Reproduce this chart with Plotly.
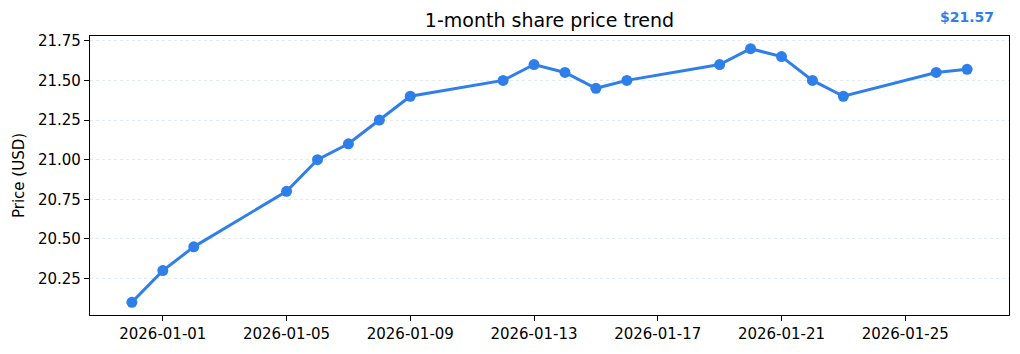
import plotly.graph_objects as go

dates = ["2025-12-31", "2026-01-01", "2026-01-02", "2026-01-05", "2026-01-06", "2026-01-07",
         "2026-01-08", "2026-01-09", "2026-01-12", "2026-01-13", "2026-01-14", "2026-01-15",
         "2026-01-16", "2026-01-19", "2026-01-20", "2026-01-21", "2026-01-22", "2026-01-23",
         "2026-01-26", "2026-01-27"]
prices = [20.10, 20.30, 20.45, 20.80, 21.00, 21.10, 21.25, 21.40, 21.50, 21.60, 21.55, 21.45,
          21.50, 21.60, 21.70, 21.65, 21.50, 21.40, 21.55, 21.57]
x_ticks = ["2026-01-01", "2026-01-05", "2026-01-09", "2026-01-13", "2026-01-17", "2026-01-21", "2026-01-25"]
y_ticks = [20.25, 20.50, 20.75, 21.00, 21.25, 21.50, 21.75]

color = "#2f7fea"
font = "DejaVu Sans"

fig = go.Figure()
fig.add_trace(go.Scatter(
    x=dates, y=prices, mode="lines+markers",
    line=dict(color=color, width=3),
    marker=dict(color=color, size=11),
    showlegend=False,
))

fig.add_annotation(
    x=dates[-1], y=1.0, xref="x", yref="paper", yshift=9,
    text=f"<b>${prices[-1]:.2f}</b>", showarrow=False,
    xanchor="center", yanchor="bottom",
    font=dict(family=font, size=14, color=color),
)

fig.update_layout(
    width=1020, height=354,
    margin=dict(l=90, r=11, t=36, b=39),
    paper_bgcolor="white", plot_bgcolor="white",
    font=dict(family=font, size=15, color="black"),
    title=dict(text="1-month share price trend", x=0.5, xref="paper", xanchor="center",
               y=1 - 20 / 354, yanchor="middle", font=dict(size=19)),
    xaxis=dict(
        type="date", range=["2025-12-29 15:30", "2026-01-28 08:30"],
        tickvals=x_ticks, ticktext=x_ticks,
        showgrid=False, zeroline=False,
        showline=True, linecolor="black", linewidth=1.2, mirror=True,
        ticks="outside", ticklen=5, tickcolor="black",
    ),
    yaxis=dict(
        range=[20.02, 21.78],
        tickvals=y_ticks, ticktext=[f"{v:.2f}" for v in y_ticks],
        showgrid=True, gridcolor="#e2eaf3", griddash="dot", gridwidth=1,
        zeroline=False,
        showline=True, linecolor="black", linewidth=1.2, mirror=True,
        ticks="outside", ticklen=5, tickcolor="black",
        title=dict(text="Price (USD)", font=dict(size=15), standoff=9),
    ),
)

fig.write_html("out.html")
